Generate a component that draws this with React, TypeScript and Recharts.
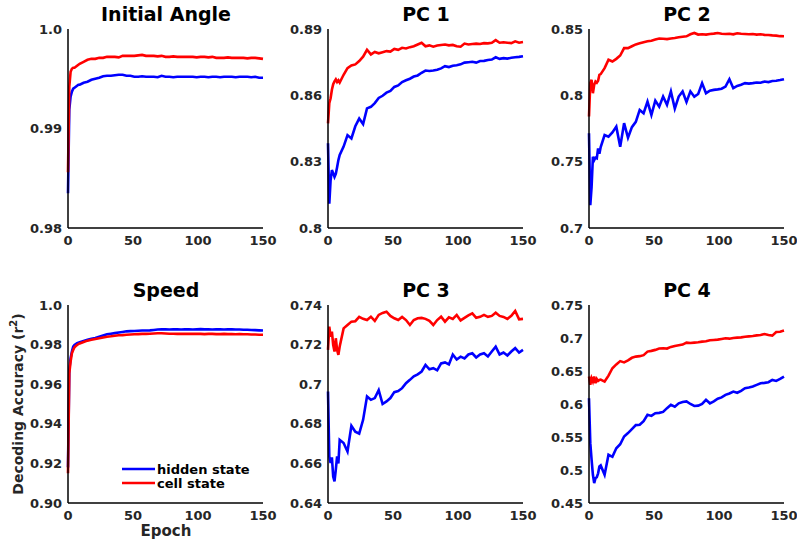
import { LineChart, Line, XAxis, YAxis } from 'recharts';

// epochs sampled from the curves (dense at the start, every 3 epochs after)
const epochs = [0, 1, 2, 3, 4, 5, 6, 7, 8, 9, 12, 15, 18, 21, 24, 27, 30, 33, 36, 39, 42, 45, 48, 51, 54, 57, 60, 63, 66, 69, 72, 75, 78, 81, 84, 87, 90, 93, 96, 99, 102, 105, 108, 111, 114, 117, 120, 123, 126, 129, 132, 135, 138, 141, 144, 147, 150];

const angleHidden = [0.9835, 0.9919, 0.9932, 0.9937, 0.994, 0.9941, 0.9942, 0.9943, 0.9944, 0.9944,
  0.9946, 0.9947, 0.9949, 0.995, 0.9951, 0.99525, 0.9953, 0.9953, 0.99535, 0.9954,
  0.9954, 0.9953, 0.9953, 0.9952, 0.9952, 0.99525, 0.9952, 0.9952, 0.9952, 0.99515,
  0.9953, 0.9952, 0.9952, 0.99515, 0.9952, 0.9952, 0.9952, 0.9952, 0.9952, 0.99515,
  0.9952, 0.9952, 0.99515, 0.9952, 0.9952, 0.99515, 0.9952, 0.9952, 0.9952, 0.99515,
  0.9952, 0.9952, 0.9952, 0.99515, 0.9952, 0.9951, 0.9951];
const angleCell = [0.9856, 0.9942, 0.9957, 0.996, 0.9961, 0.9961, 0.9962, 0.9963, 0.9964, 0.9965,
  0.9967, 0.9969, 0.997, 0.997, 0.9971, 0.9971, 0.9972, 0.9972, 0.9972, 0.99715,
  0.9973, 0.9973, 0.9973, 0.9973, 0.99735, 0.9974, 0.9973, 0.9973, 0.9973, 0.99725,
  0.9973, 0.9972, 0.9972, 0.99725, 0.9972, 0.9972, 0.9972, 0.9972, 0.9972, 0.99715,
  0.9972, 0.9972, 0.99715, 0.9972, 0.9971, 0.9971, 0.9971, 0.99715, 0.9971, 0.9971,
  0.9971, 0.9971, 0.99705, 0.9971, 0.9971, 0.99705, 0.997];

const pc1Hidden = [0.8383, 0.811, 0.8216, 0.8262, 0.8247, 0.8231, 0.8245, 0.8275, 0.8307, 0.833,
  0.8368, 0.842, 0.8405, 0.846, 0.8495, 0.847, 0.8541, 0.8548, 0.8565, 0.8588,
  0.8598, 0.8612, 0.862, 0.8638, 0.8645, 0.866, 0.8668, 0.8675, 0.8685, 0.869,
  0.8702, 0.8712, 0.871, 0.8712, 0.8716, 0.8722, 0.8732, 0.8728, 0.8734, 0.8736,
  0.874, 0.8748, 0.875, 0.8752, 0.8748, 0.8755, 0.8756, 0.876, 0.8762, 0.8772,
  0.8765, 0.8768, 0.8766, 0.877, 0.8772, 0.8774, 0.8777];
const pc1Cell = [0.8473, 0.8564, 0.8587, 0.8625, 0.865, 0.8663, 0.8672, 0.866, 0.8668, 0.8658,
  0.8693, 0.8723, 0.8735, 0.874, 0.8755, 0.8775, 0.8806, 0.8785, 0.8796, 0.879,
  0.8795, 0.88, 0.8798, 0.881, 0.8806, 0.8815, 0.8812, 0.8818, 0.8822, 0.883,
  0.8838, 0.8822, 0.8826, 0.882, 0.8825, 0.8828, 0.883, 0.8826, 0.8828, 0.8822,
  0.882, 0.8834, 0.883, 0.8832, 0.8834, 0.8832, 0.8836, 0.8835, 0.8838, 0.885,
  0.8838, 0.884, 0.8838, 0.8836, 0.8844, 0.8838, 0.8841];

const pc2Hidden = [0.7714, 0.7172, 0.731, 0.7537, 0.7512, 0.753, 0.7525, 0.76, 0.756, 0.761,
  0.7701, 0.7688, 0.772, 0.7764, 0.7613, 0.779, 0.768, 0.776, 0.78, 0.789,
  0.7865, 0.7953, 0.7852, 0.796, 0.7915, 0.7991, 0.7928, 0.8029, 0.79, 0.7991,
  0.8029, 0.795, 0.803, 0.799, 0.801, 0.8092, 0.8016, 0.8035, 0.8041, 0.8045,
  0.805, 0.8066, 0.8122, 0.8054, 0.8071, 0.808, 0.8092, 0.8088, 0.8092, 0.8097,
  0.8095, 0.8104, 0.81, 0.8108, 0.811, 0.8115, 0.8122];
const pc2Cell = [0.784, 0.8092, 0.8117, 0.8016, 0.8079, 0.8104, 0.8095, 0.811, 0.8155, 0.816,
  0.8205, 0.8268, 0.8255, 0.8275, 0.83, 0.8356, 0.8356, 0.837, 0.8384, 0.8392,
  0.84, 0.8407, 0.8412, 0.842, 0.8428, 0.8426, 0.8424, 0.8428, 0.8432, 0.8438,
  0.8442, 0.8445, 0.846, 0.847, 0.8458, 0.846, 0.8458, 0.8462, 0.8465, 0.847,
  0.8464, 0.8462, 0.8464, 0.846, 0.8468, 0.8464, 0.8462, 0.846, 0.8462, 0.8458,
  0.846, 0.8456, 0.8455, 0.8452, 0.845, 0.8446, 0.8445];

const speedHidden = [0.918, 0.9672, 0.9731, 0.9765, 0.979, 0.9798, 0.9803, 0.9807, 0.981, 0.9812,
  0.9818, 0.9824, 0.9829, 0.9833, 0.984, 0.9846, 0.9852, 0.9855, 0.9858, 0.9861,
  0.9864, 0.9867, 0.9868, 0.9869, 0.987, 0.9871, 0.9871, 0.9872, 0.9874, 0.9876,
  0.9877, 0.9877, 0.9876, 0.9877, 0.9877, 0.9876, 0.9877, 0.9877, 0.9876, 0.9877,
  0.9878, 0.9877, 0.9877, 0.9876, 0.9877, 0.9877, 0.9876, 0.9877, 0.9877, 0.9876,
  0.9876, 0.9875, 0.9875, 0.9874, 0.9873, 0.9872, 0.9871];
const speedCell = [0.915, 0.9655, 0.9714, 0.9756, 0.9773, 0.9787, 0.9793, 0.9798, 0.9803, 0.9806,
  0.9813, 0.982, 0.9824, 0.9828, 0.9832, 0.9836, 0.984, 0.9842, 0.9845, 0.9847,
  0.9848, 0.985, 0.9851, 0.9852, 0.9853, 0.9854, 0.9854, 0.9855, 0.9856, 0.9857,
  0.9857, 0.9856, 0.9855, 0.9855, 0.9854, 0.9855, 0.9854, 0.9854, 0.9855, 0.9854,
  0.9854, 0.9853, 0.9854, 0.9854, 0.9853, 0.9853, 0.9854, 0.9853, 0.9853, 0.9852,
  0.9853, 0.9852, 0.9852, 0.9851, 0.9851, 0.985, 0.985];

const pc3Hidden = [0.6963, 0.6635, 0.6602, 0.663, 0.6534, 0.6509, 0.6568, 0.6635, 0.66, 0.6719,
  0.6703, 0.666, 0.679, 0.676, 0.675, 0.682, 0.6938, 0.6921, 0.693, 0.697,
  0.69, 0.6913, 0.693, 0.696, 0.6965, 0.698, 0.7005, 0.7022, 0.704, 0.705,
  0.7064, 0.7097, 0.7075, 0.7081, 0.707, 0.7105, 0.711, 0.71, 0.715, 0.7125,
  0.7139, 0.713, 0.715, 0.7156, 0.7135, 0.715, 0.7156, 0.714, 0.7165, 0.719,
  0.715, 0.716, 0.7145, 0.7165, 0.7182, 0.716, 0.7173];
const pc3Cell = [0.7173, 0.7291, 0.724, 0.7266, 0.7198, 0.7165, 0.7232, 0.7173, 0.7148, 0.719,
  0.7282, 0.7299, 0.7316, 0.7318, 0.734, 0.733, 0.7324, 0.7341, 0.732, 0.735,
  0.736, 0.7366, 0.7345, 0.7333, 0.7324, 0.734, 0.7324, 0.7299, 0.7324, 0.7333,
  0.7335, 0.733, 0.732, 0.7299, 0.7324, 0.7341, 0.7316, 0.7338, 0.733, 0.735,
  0.7322, 0.7335, 0.7348, 0.7358, 0.7335, 0.734, 0.735, 0.734, 0.7345, 0.7361,
  0.7345, 0.734, 0.733, 0.7345, 0.737, 0.7328, 0.733];

const pc4Hidden = [0.6088, 0.5407, 0.5155, 0.4928, 0.4802, 0.4878, 0.489, 0.495, 0.5054, 0.507,
  0.4928, 0.5231, 0.52, 0.533, 0.539, 0.5508, 0.5559, 0.562, 0.568, 0.5685,
  0.574, 0.5836, 0.582, 0.5861, 0.5866, 0.588, 0.5937, 0.5987, 0.596, 0.601,
  0.603, 0.604, 0.6, 0.597, 0.5975, 0.6, 0.6063, 0.601, 0.604, 0.608,
  0.61, 0.6138, 0.616, 0.6189, 0.617, 0.62, 0.6239, 0.625, 0.6265, 0.629,
  0.6315, 0.632, 0.633, 0.6365, 0.635, 0.638, 0.6416];
const pc4Cell = [0.6416, 0.629, 0.639, 0.634, 0.6416, 0.6315, 0.638, 0.635, 0.6365, 0.637,
  0.634, 0.643, 0.6542, 0.66, 0.665, 0.663, 0.666, 0.67, 0.6718, 0.6725,
  0.674, 0.6794, 0.6805, 0.682, 0.684, 0.6845, 0.684, 0.6865, 0.688, 0.689,
  0.69, 0.693, 0.6925, 0.693, 0.6935, 0.6945, 0.695, 0.6965, 0.697, 0.6975,
  0.6985, 0.6996, 0.699, 0.7, 0.7006, 0.701, 0.702, 0.7025, 0.7031, 0.704,
  0.7046, 0.7061, 0.7045, 0.7036, 0.709, 0.7095, 0.7112];

const xTicks = [0, 50, 100, 150];

const angleTicks = [0.98, 0.99, 1.0];
const angleLabels = ['0.98', '0.99', '1.0'];
const pc1Ticks = [0.8, 0.83, 0.86, 0.89];
const pc1Labels = ['0.8', '0.83', '0.86', '0.89'];
const pc2Ticks = [0.7, 0.75, 0.8, 0.85];
const pc2Labels = ['0.7', '0.75', '0.8', '0.85'];
const speedTicks = [0.9, 0.92, 0.94, 0.96, 0.98, 1.0];
const speedLabels = ['0.90', '0.92', '0.94', '0.96', '0.98', '1.0'];
const pc3Ticks = [0.64, 0.66, 0.68, 0.7, 0.72, 0.74];
const pc3Labels = ['0.64', '0.66', '0.68', '0.7', '0.72', '0.74'];
const pc4Ticks = [0.45, 0.5, 0.55, 0.6, 0.65, 0.7, 0.75];
const pc4Labels = ['0.45', '0.5', '0.55', '0.6', '0.65', '0.7', '0.75'];

const FONT = '"DejaVu Sans", sans-serif';
const TICK_COLOR = '#262626';

function buildRows(hidden: number[], cell: number[]) {
  return epochs.map((e, i) => ({ epoch: e, hidden: hidden[i], cell: cell[i] }));
}

interface PanelProps {
  left: number;
  top: number;
  plotH: number;
  hidden: number[];
  cell: number[];
  yTicks: number[];
  yLabels: string[];
}

function Panel({ left, top, plotH, hidden, cell, yTicks, yLabels }: PanelProps) {
  const data = buildRows(hidden, cell);
  const fmt = (v: number) => {
    const i = yTicks.findIndex((t) => Math.abs(t - v) < 1e-9);
    return i >= 0 ? yLabels[i] : String(v);
  };
  const tickStyle = { fill: TICK_COLOR, fontSize: 13, fontWeight: 'bold', fontFamily: FONT };
  return (
    <div style={{ position: 'absolute', left: left - 60, top: top - 29 }}>
      <LineChart
        width={270}
        height={29 + plotH + 30}
        data={data}
        margin={{ top: 29, right: 15, left: 0, bottom: 0 }}
        style={{ overflow: 'visible' }}
      >
        <XAxis
          dataKey="epoch"
          type="number"
          domain={[0, 150]}
          ticks={xTicks}
          height={30}
          tickLine={false}
          tickSize={4}
          tickMargin={4}
          axisLine={{ stroke: '#000', strokeWidth: 1.5 }}
          tick={tickStyle}
        />
        <YAxis
          type="number"
          domain={[yTicks[0], yTicks[yTicks.length - 1]]}
          ticks={yTicks}
          allowDataOverflow
          width={60}
          tickLine={false}
          tickSize={4}
          tickMargin={2}
          tickFormatter={fmt}
          axisLine={{ stroke: '#000', strokeWidth: 1.5 }}
          tick={tickStyle}
        />
        <Line type="linear" dataKey="hidden" stroke="#0000ff" strokeWidth={2.6} dot={false} isAnimationActive={false} />
        <Line type="linear" dataKey="cell" stroke="#ff0000" strokeWidth={2.6} dot={false} isAnimationActive={false} />
      </LineChart>
    </div>
  );
}

export default function App() {
  const titleStyle = { fontFamily: FONT, fontWeight: 'bold', fontSize: 19, fill: '#000' } as const;
  const labelStyle = { fontFamily: FONT, fontWeight: 'bold', fill: TICK_COLOR } as const;
  return (
    <div style={{ position: 'absolute', left: 0, top: 0, width: 797, height: 544, background: '#fff', fontFamily: FONT }}>
      <Panel left={68} top={29} plotH={199} hidden={angleHidden} cell={angleCell} yTicks={angleTicks} yLabels={angleLabels} />
      <Panel left={328} top={29} plotH={199} hidden={pc1Hidden} cell={pc1Cell} yTicks={pc1Ticks} yLabels={pc1Labels} />
      <Panel left={589} top={29} plotH={199} hidden={pc2Hidden} cell={pc2Cell} yTicks={pc2Ticks} yLabels={pc2Labels} />
      <Panel left={68} top={305} plotH={198} hidden={speedHidden} cell={speedCell} yTicks={speedTicks} yLabels={speedLabels} />
      <Panel left={328} top={305} plotH={198} hidden={pc3Hidden} cell={pc3Cell} yTicks={pc3Ticks} yLabels={pc3Labels} />
      <Panel left={589} top={305} plotH={198} hidden={pc4Hidden} cell={pc4Cell} yTicks={pc4Ticks} yLabels={pc4Labels} />

      <svg width={797} height={544} style={{ position: 'absolute', left: 0, top: 0, pointerEvents: 'none' }}>
        <text x={166} y={21} textAnchor="middle" style={titleStyle}>Initial Angle</text>
        <text x={426} y={21} textAnchor="middle" style={titleStyle}>PC 1</text>
        <text x={687} y={21} textAnchor="middle" style={titleStyle}>PC 2</text>
        <text x={166} y={297} textAnchor="middle" style={titleStyle}>Speed</text>
        <text x={426} y={297} textAnchor="middle" style={titleStyle}>PC 3</text>
        <text x={687} y={297} textAnchor="middle" style={titleStyle}>PC 4</text>

        <text x={166} y={536} textAnchor="middle" style={{ ...labelStyle, fontSize: 15 }}>Epoch</text>
        <text
          transform="translate(23, 404) rotate(-90)"
          textAnchor="middle"
          style={{ ...labelStyle, fontSize: 14 }}
        >
          Decoding Accuracy (r<tspan dy={-6} fontSize={10}>2</tspan><tspan dy={6}>)</tspan>
        </text>

        <line x1={122} y1={469} x2={155} y2={469} stroke="#0000ff" strokeWidth={2.5} />
        <line x1={122} y1={483} x2={155} y2={483} stroke="#ff0000" strokeWidth={2.5} />
        <text x={157} y={473.5} style={{ ...labelStyle, fontSize: 13, fill: '#000' }}>hidden state</text>
        <text x={157} y={487.5} style={{ ...labelStyle, fontSize: 13, fill: '#000' }}>cell state</text>
      </svg>
    </div>
  );
}
